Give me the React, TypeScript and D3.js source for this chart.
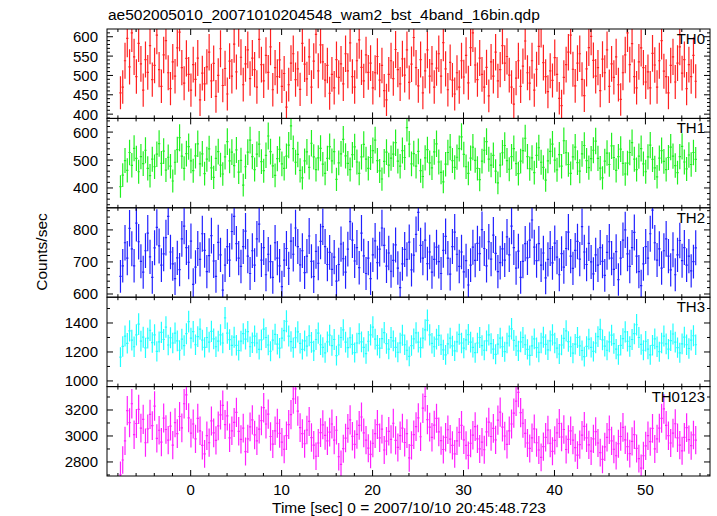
import React from "react";
import * as d3 from "d3";

const TITLE = "ae502005010_20071010204548_wam2_bst_4band_16bin.qdp";
const X_LABEL = "Time [sec] 0 = 2007/10/10 20:45:48.723";
const Y_LABEL = "Counts/sec";
const PANEL_NAMES = ["TH0", "TH1", "TH2", "TH3", "TH0123"];
const PANEL_COLORS = ["#ff2020", "#20f020", "#2020ff", "#20ffff", "#ff20ff"];
const X_TICKS = [0, 10, 20, 30, 40, 50];
const T_START = -7.72;
const BIN = 0.25;

const TH0 = [
  455, 470, 538, 596, 522, 610, 548, 497, 583, 530,
  462, 541, 508, 577, 489, 526, 604, 515, 472, 553,
  590, 507, 466, 535, 498, 571, 612, 520, 480, 544,
  503, 462, 528, 490, 545, 437, 506, 478, 522, 560,
  486, 531, 446, 500, 569, 474, 518, 452, 537, 498,
  581, 509, 624, 547, 476, 530, 566, 492, 545, 515,
  470, 593, 528, 486, 552, 508, 574, 463, 520, 497,
  540, 472, 505, 418, 476, 532, 556, 489, 517, 464,
  583, 529, 491, 548, 470, 537, 606, 512, 579, 535,
  488, 526, 454, 503, 468, 541, 495, 530, 478, 556,
  512, 584, 497, 470, 538, 592, 521, 486, 553, 508,
  532, 468, 507, 549, 488, 526, 461, 437, 503, 538,
  492, 567, 515, 478, 543, 501, 566, 482, 529, 598,
  520, 473, 541, 455, 512, 566, 498, 530, 470, 519,
  556, 498, 585, 517, 463, 534, 488, 452, 507, 470,
  538, 496, 552, 481, 572, 610, 527, 489, 545, 503,
  470, 521, 447, 535, 498, 560, 486, 515, 577, 532,
  549, 501, 470, 426, 493, 538, 472, 524, 589, 507,
  480, 538, 462, 516, 575, 622, 533, 497, 458, 512,
  487, 546, 503, 441, 422, 495, 528, 560, 604, 516,
  473, 532, 556, 490, 448, 517, 572, 601, 539, 498,
  520, 461, 542, 507, 566, 472, 530, 495, 548, 476,
  438, 507, 553, 610, 528, 582, 497, 468, 535, 571,
  520, 483, 509, 468, 557, 527, 470, 538, 590, 511,
  497, 455, 526, 548, 483, 532, 574, 506, 541, 466,
  528, 497, 552, 485,
];

const TH1 = [
  405, 446, 498, 463, 527, 481, 542, 506, 458, 512,
  487, 535, 470, 444, 503, 476, 521, 559, 488, 532,
  464, 510, 478, 425, 492, 537, 580, 514, 470, 523,
  548, 497, 462, 515, 558, 486, 522, 451, 503, 540,
  472, 438, 506, 530, 482, 450, 511, 566, 497, 528,
  480, 536, 457, 499, 410, 476, 528, 571, 512, 466,
  521, 557, 494, 462, 517, 586, 530, 479, 445, 505,
  538, 486, 470, 514, 553, 622, 541, 492, 520, 463,
  436, 497, 529, 474, 560, 511, 466, 508, 542, 485,
  452, 506, 548, 497, 530, 431, 490, 522, 574, 515,
  488, 466, 519, 547, 493, 452, 511, 556, 503, 470,
  509, 534, 571, 498, 461, 432, 495, 528, 482, 507,
  521, 562, 496, 478, 534, 509, 616, 557, 486, 523,
  478, 531, 462, 441, 508, 537, 490, 472, 529, 558,
  493, 456, 422, 485, 527, 546, 498, 474, 510, 541,
  583, 520, 476, 452, 507, 546, 499, 470, 430, 496,
  535, 566, 503, 482, 517, 460, 418, 482, 526, 552,
  498, 467, 512, 541, 487, 451, 496, 534, 578, 512,
  469, 508, 455, 517, 544, 492, 474, 428, 497, 531,
  557, 500, 465, 519, 478, 569, 526, 484, 452, 511,
  546, 491, 460, 522, 552, 498, 473, 505, 535, 568,
  506, 471, 436, 496, 525, 484, 551, 509, 463, 512,
  539, 488, 450, 489, 527, 562, 503, 466, 514, 541,
  486, 458, 511, 553, 502, 472, 440, 507, 534, 495,
  466, 509, 546, 514, 480, 455, 512, 549, 493, 468,
  518, 484, 527, 502,
];

const TH2 = [
  655, 688, 760, 712, 805, 741, 688, 821, 763, 702,
  668, 735, 790, 716, 652, 744, 808, 750, 690, 725,
  776, 842, 731, 694, 648, 713, 676, 772, 812, 745,
  699, 765, 630, 684, 742, 708, 788, 736, 670, 720,
  782, 703, 655, 761, 722, 612, 690, 748, 706, 795,
  842, 757, 712, 686, 748, 796, 718, 664, 735, 690,
  772, 818, 706, 745, 660, 724, 701, 652, 760, 712,
  688, 623, 706, 742, 680, 765, 724, 806, 748, 691,
  735, 667, 718, 781, 702, 654, 733, 696, 764, 810,
  748, 692, 730, 677, 715, 640, 692, 756, 710, 668,
  740, 826, 768, 703, 745, 682, 790, 719, 664, 712,
  648, 722, 766, 698, 740, 806, 752, 687, 728, 671,
  705, 753, 681, 620, 694, 739, 708, 762, 675, 721,
  786, 855, 752, 712, 768, 695, 731, 668, 708, 746,
  701, 664, 736, 780, 712, 662, 748, 793, 724, 686,
  731, 669, 704, 628, 690, 746, 705, 758, 726, 801,
  742, 688, 763, 709, 784, 727, 670, 698, 741, 706,
  778, 722, 812, 745, 681, 734, 652, 702, 757, 713,
  768, 831, 746, 704, 757, 690, 728, 650, 708, 742,
  697, 759, 715, 660, 726, 684, 742, 793, 718, 680,
  736, 764, 709, 810, 731, 692, 758, 700, 663, 722,
  690, 745, 702, 658, 730, 763, 712, 677, 732, 645,
  712, 768, 800, 725, 686, 745, 792, 718, 670, 626,
  694, 748, 712, 788, 862, 760, 706, 741, 681, 735,
  772, 718, 675, 738, 660, 722, 767, 704, 745, 690,
  718, 672, 701, 744,
];

const TH3 = [
  1165, 1238, 1310, 1260, 1345, 1282, 1236, 1318, 1392, 1275,
  1302, 1228, 1296, 1350, 1265, 1318, 1204, 1270, 1335, 1286,
  1372, 1248, 1298, 1262, 1330, 1276, 1212, 1288, 1244, 1326,
  1410, 1296, 1340, 1250, 1306, 1358, 1282, 1232, 1300, 1268,
  1342, 1290, 1236, 1275, 1318, 1262, 1435, 1330, 1285, 1245,
  1302, 1246, 1210, 1275, 1326, 1288, 1340, 1236, 1264, 1310,
  1262, 1218, 1284, 1358, 1300, 1248, 1205, 1282, 1322, 1254,
  1226, 1296, 1348, 1412, 1310, 1272, 1230, 1298, 1338, 1260,
  1218, 1276, 1240, 1312, 1266, 1208, 1286, 1330, 1250, 1232,
  1194, 1270, 1316, 1244, 1286, 1175, 1248, 1300, 1352, 1268,
  1230, 1298, 1252, 1196, 1262, 1326, 1270, 1232, 1188, 1274,
  1318, 1372, 1288, 1246, 1226, 1292, 1334, 1258, 1220, 1300,
  1276, 1232, 1198, 1262, 1316, 1250, 1212, 1170, 1244, 1290,
  1332, 1268, 1230, 1296, 1352, 1418, 1318, 1260, 1236, 1288,
  1314, 1250, 1214, 1180, 1256, 1296, 1242, 1208, 1270, 1322,
  1262, 1226, 1284, 1320, 1268, 1232, 1195, 1262, 1300, 1244,
  1212, 1276, 1318, 1258, 1220, 1184, 1254, 1296, 1236, 1202,
  1262, 1310, 1360, 1280, 1242, 1208, 1270, 1300, 1250, 1218,
  1176, 1242, 1290, 1230, 1198, 1262, 1302, 1252, 1214, 1276,
  1318, 1262, 1226, 1186, 1248, 1294, 1346, 1272, 1236, 1192,
  1254, 1300, 1242, 1210, 1168, 1238, 1288, 1232, 1204, 1262,
  1306, 1356, 1284, 1240, 1212, 1270, 1316, 1258, 1220, 1180,
  1246, 1292, 1338, 1274, 1238, 1286, 1326, 1388, 1300, 1252,
  1212, 1274, 1220, 1180, 1246, 1290, 1236, 1202, 1262, 1310,
  1256, 1220, 1278, 1324, 1268, 1230, 1194, 1256, 1302, 1250,
  1224, 1282, 1312, 1250,
];

const TH0123 = [
  2700, 2815, 2962, 3195, 3102, 3248, 3010, 3096, 3205, 3060,
  3128, 2948, 3054, 3166, 3080, 3230, 2982, 3044, 2952, 3138,
  3050, 2968, 3076, 2930, 3102, 3018, 3150, 3062, 3248, 3316,
  3140, 3022, 3092, 2978, 3136, 3040, 2928, 2862, 3002, 2948,
  3116, 3024, 2966, 3078, 3162, 3236, 3088, 3154, 2986, 3040,
  3104, 3182, 3036, 2974, 3060, 2880, 2978, 3070, 3124, 3008,
  2962, 3052, 3118, 3218, 3092, 3168, 2996, 2938, 3040, 3098,
  3020, 2952, 2898, 3002, 3088, 3164, 3286, 3362, 3192, 3064,
  3018, 2940, 3046, 3112, 2988, 2930, 2844, 2946, 3026, 3086,
  3004, 2962, 3030, 3092, 2968, 3044, 2840, 2782, 2902, 2984,
  3058, 3124, 2998, 2936, 3012, 3082, 3146, 3024, 2968, 2906,
  2858, 2944, 3018, 3088, 2986, 3052, 2892, 2960, 3036, 2974,
  3098, 2966, 2912, 3002, 3060, 2950, 3018, 2832, 2928, 3010,
  3072, 3140, 2994, 3214, 3304, 3126, 3068, 2990, 3084, 3136,
  3032, 2964, 2896, 2990, 3048, 2976, 2928, 2862, 2962, 3028,
  3082, 2970, 2928, 2850, 2944, 3006, 3072, 2978, 2900, 2952,
  2894, 3032, 3106, 2996, 3058, 2970, 3122, 3184, 3068, 3000,
  2936, 3040, 3092, 3176, 3268, 3336, 3180, 3098, 3020, 2946,
  2904, 2986, 3054, 2948, 2892, 2836, 2918, 2990, 3046, 2944,
  2882, 2966, 3024, 3096, 2992, 3050, 2896, 2974, 3040, 2968,
  2910, 2852, 2934, 3006, 3074, 2986, 2932, 2884, 2978, 3034,
  2946, 2872, 2820, 2916, 2990, 3048, 2962, 2898, 2848, 2940,
  2996, 3066, 2970, 2918, 2864, 2958, 3010, 2904, 2826, 2752,
  2848, 2924, 3002, 2956, 3058, 2900, 2978, 3060, 3136, 3208,
  3082, 3002, 2946, 3022, 3094, 2986, 2930, 2886, 2990, 3064,
  2972, 2926, 3008, 2968,
];

const SERIES = [TH0, TH1, TH2, TH3, TH0123];
const Y_DOMAINS: [number, number][] = [
  [389, 620],
  [329, 649],
  [590, 869],
  [961, 1578],
  [2692, 3380],
];
const Y_MAJOR = [
  [400, 450, 500, 550, 600],
  [400, 500, 600],
  [600, 700, 800],
  [1000, 1200, 1400],
  [2800, 3000, 3200],
];
const Y_MINOR_STEP = [10, 20, 20, 100, 100];

const W = 717;
const H = 516;
const LEFT = 107;
const RIGHT = 710;
const TOP = 29;
const BOTTOM = 476;
const FONT = "'Liberation Sans', Arial, Helvetica, sans-serif";

export default function App() {
  const panelH = (BOTTOM - TOP) / SERIES.length;
  const x = d3.scaleLinear().domain([-9.2, 57.1]).range([LEFT, RIGHT]);
  const xMinor = d3.range(-8, 57.1, 2);

  return (
    <svg
      width={W}
      height={H}
      style={{ position: "absolute", left: 0, top: 0, background: "#fff" }}
      fontFamily={FONT}
    >
      <rect x={0} y={0} width={W} height={H} fill="#fff" />
      <text x={108} y={20} fontSize={15.5} fill="#000">
        {TITLE}
      </text>
      {SERIES.map((vals, p) => {
        const top = TOP + p * panelH;
        const bot = top + panelH;
        const [d0, d1] = Y_DOMAINS[p];
        const y = d3.scaleLinear().domain([d0, d1]).range([bot, top]);
        let hPath = "";
        let vPath = "";
        vals.forEach((v, i) => {
          const t = T_START + i * BIN;
          const err = Math.sqrt(v / BIN);
          const xa = x(t - BIN / 2);
          const xb = x(t + BIN / 2);
          const xc = x(t);
          hPath += `M${xa.toFixed(2)},${y(v).toFixed(2)}L${xb.toFixed(2)},${y(v).toFixed(2)}`;
          vPath += `M${xc.toFixed(2)},${y(v - err).toFixed(2)}L${xc.toFixed(2)},${y(v + err).toFixed(2)}`;
        });
        const minorTicks = d3
          .range(Math.ceil(d0 / Y_MINOR_STEP[p]) * Y_MINOR_STEP[p], d1, Y_MINOR_STEP[p])
          .filter((v) => !Y_MAJOR[p].includes(v));
        const clipId = `clip${p}`;
        return (
          <g key={p}>
            <defs>
              <clipPath id={clipId}>
                <rect x={LEFT} y={top} width={RIGHT - LEFT} height={panelH} />
              </clipPath>
            </defs>
            <g clipPath={`url(#${clipId})`}>
              <path d={vPath} stroke={PANEL_COLORS[p]} strokeWidth={1.2} fill="none" />
              <path d={hPath} stroke={PANEL_COLORS[p]} strokeWidth={1.2} fill="none" />
            </g>
            <rect
              x={LEFT}
              y={top}
              width={RIGHT - LEFT}
              height={panelH}
              fill="none"
              stroke="#000"
              strokeWidth={1}
            />
            {Y_MAJOR[p].map((v) => (
              <g key={`M${v}`}>
                <line x1={LEFT} x2={LEFT + 6} y1={y(v)} y2={y(v)} stroke="#000" />
                <line x1={RIGHT} x2={RIGHT - 6} y1={y(v)} y2={y(v)} stroke="#000" />
                <text
                  x={98}
                  y={y(v) + 5.5}
                  fontSize={15}
                  textAnchor="end"
                  fill="#000"
                >
                  {v}
                </text>
              </g>
            ))}
            {minorTicks.map((v) => (
              <g key={`m${v}`}>
                <line x1={LEFT} x2={LEFT + 3} y1={y(v)} y2={y(v)} stroke="#000" />
                <line x1={RIGHT} x2={RIGHT - 3} y1={y(v)} y2={y(v)} stroke="#000" />
              </g>
            ))}
            {xMinor.map((t) => {
              const major = X_TICKS.includes(t);
              const len = major ? 6 : 3;
              return (
                <g key={`x${t}`}>
                  <line x1={x(t)} x2={x(t)} y1={bot} y2={bot - len} stroke="#000" />
                  <line x1={x(t)} x2={x(t)} y1={top} y2={top + len} stroke="#000" />
                </g>
              );
            })}
            <text
              x={705}
              y={top + 15}
              fontSize={15}
              textAnchor="end"
              fill="#000"
            >
              {PANEL_NAMES[p]}
            </text>
          </g>
        );
      })}
      {X_TICKS.map((t) => (
        <text
          key={`xl${t}`}
          x={x(t)}
          y={495}
          fontSize={15}
          textAnchor="middle"
          fill="#000"
        >
          {t}
        </text>
      ))}
      <text x={x(24)} y={513} fontSize={15.5} textAnchor="middle" fill="#000">
        {X_LABEL}
      </text>
      <text
        transform={`translate(47,252) rotate(-90)`}
        fontSize={15.5}
        textAnchor="middle"
        fill="#000"
      >
        {Y_LABEL}
      </text>
    </svg>
  );
}
